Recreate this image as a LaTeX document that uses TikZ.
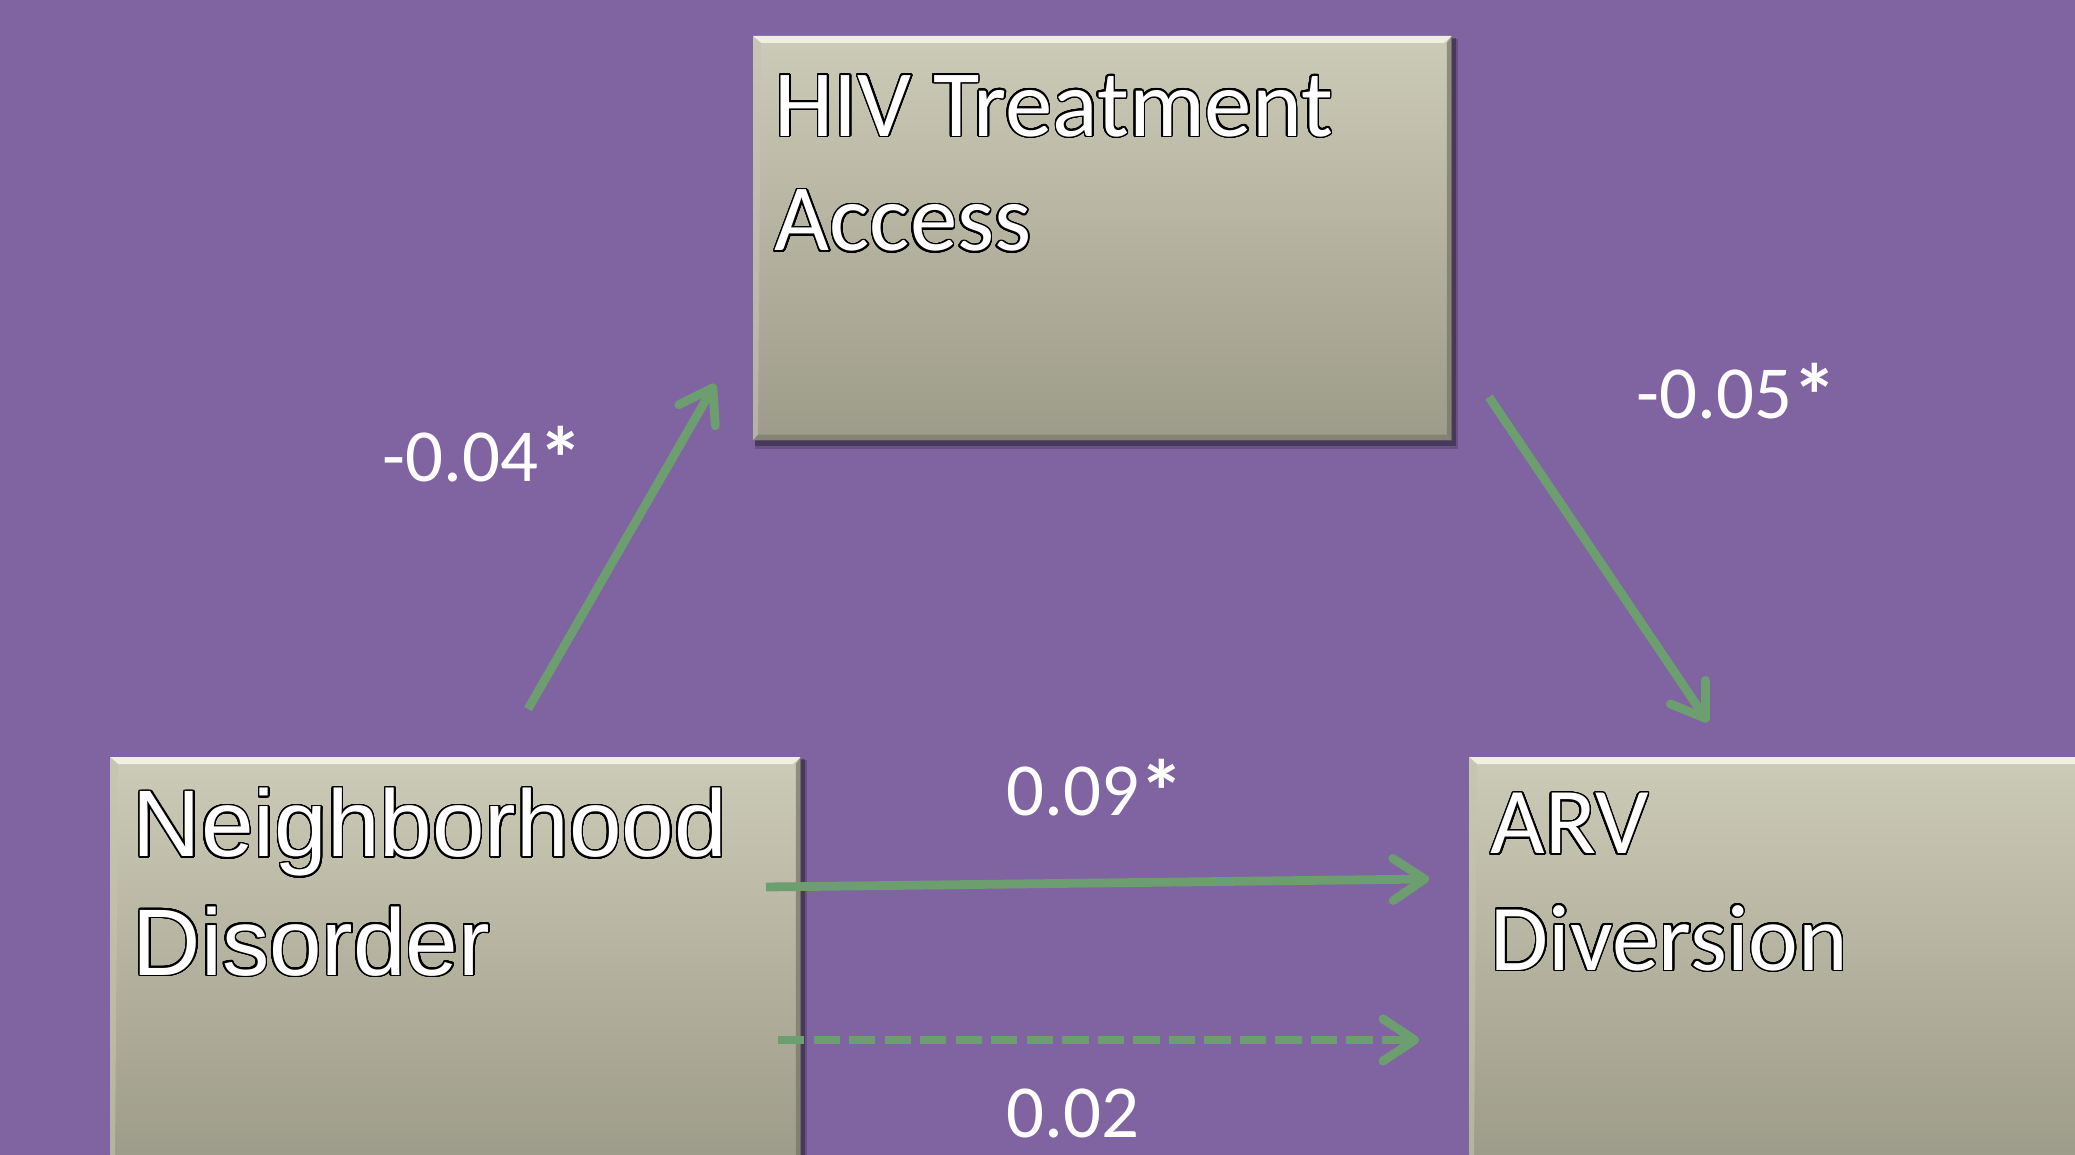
\documentclass[tikz,border=0pt]{standalone}
\usepackage{fontspec}
\setmainfont{Carlito}
\newfontfamily\arialf{Liberation Sans}
\usepackage{contour}
\contourlength{0.45pt}
\contournumber{32}
\usetikzlibrary{arrows.meta,calc}
\definecolor{bgpurple}{RGB}{128,100,162}
\definecolor{arrgreen}{RGB}{108,158,111}
\definecolor{boxtop}{RGB}{204,203,183}
\definecolor{boxbot}{RGB}{157,155,137}
\definecolor{bevlight}{RGB}{240,239,224}
\definecolor{bevleft}{RGB}{196,195,177}
\definecolor{bevdark}{RGB}{118,116,102}
\newcommand\sigstar{\raisebox{-0.12em}{\scalebox{1.2}{\bfseries *}}}
\tikzset{
  box/.style={rectangle, inner sep=0pt, top color=boxtop, bottom color=boxbot, anchor=north west},
  boxtext/.style={anchor=base west, inner sep=0pt, align=left, text=white},
  coef/.style={anchor=base west, inner sep=0pt, text=white, font=\fontsize{21.3}{24}\selectfont},
  link/.style={draw=arrgreen, line width=2.5pt, -{Straight Barb[length=9pt,width=12pt,round]}},
  dlink/.style={link, dash pattern=on 7.5pt off 2.6pt},
}
\newcommand\boxshadow[1]{%
  \fill[black,opacity=0.18] ($(#1.north west)+(2,3)$) rectangle ($(#1.south east)+(6,8)$);
  \fill[black,opacity=0.3] ($(#1.north west)+(2,2)$) rectangle ($(#1.south east)+(4,5)$);}
\newcommand\boxbevel[1]{%
  \fill[bevlight] (#1.north west) -- (#1.north east) -- ($(#1.north east)+(-8,7)$) -- ($(#1.north west)+(8,7)$) -- cycle;
  \fill[bevleft,opacity=0.6] (#1.north west) -- ($(#1.north west)+(8,7)$) -- ($(#1.south west)+(5,-6)$) -- (#1.south west) -- cycle;
  \fill[bevdark,opacity=0.7] (#1.north east) -- ($(#1.north east)+(-5,7)$) -- ($(#1.south east)+(-5,-6)$) -- (#1.south east) -- cycle;
  \fill[bevdark,opacity=0.6] (#1.south west) -- ($(#1.south west)+(5,-6)$) -- ($(#1.south east)+(-5,-6)$) -- (#1.south east) -- cycle;}
\begin{document}
\begin{tikzpicture}[x=0.01cm,y=-0.01cm]
  \useasboundingbox (0,0) rectangle (2075,1155);
  \clip (0,0) rectangle (2075,1155);
  \fill[bgpurple] (0,0) rectangle (2075,1155);

  % boxes
  \path (753,36) coordinate (phiv);
  \path (110,757) coordinate (pnd);
  \path (1469,757) coordinate (parv);
  \node[box, minimum width=6.97cm, minimum height=4.03cm] (hiv) at (phiv) {};
  \node[box, minimum width=6.89cm, minimum height=4.03cm] (nd) at (pnd) {};
  \node[box, minimum width=6.97cm, minimum height=4.03cm] (arv) at (parv) {};
  \boxshadow{hiv}\boxshadow{nd}\boxshadow{arv}
  \node[box, minimum width=6.97cm, minimum height=4.03cm] at (phiv) {};
  \node[box, minimum width=6.89cm, minimum height=4.03cm] at (pnd) {};
  \node[box, minimum width=6.97cm, minimum height=4.03cm] at (parv) {};
  \boxbevel{hiv}\boxbevel{nd}\boxbevel{arv}

  % box texts (base anchor = baseline of last line)
  \node[boxtext, font=\fontsize{27}{32.7}\selectfont] (hivtxt) at (774,251)
    {\contour{black}{HIV Treatment}\\\contour{black}{Access}};
  \node[boxtext, font=\arialf\fontsize{26.9}{33.6}\selectfont] (ndtxt) at (132,975)
    {\contour{black}{Neighborhood}\\\contour{black}{Disorder}};
  \node[boxtext, font=\fontsize{26.8}{33}\selectfont] (arvtxt) at (1490,970)
    {\contour{black}{ARV}\\\contour{black}{Diversion}};

  % coefficients
  \node[coef] (c1) at (382,482) {-0.04\sigstar};
  \node[coef] (c2) at (1636,419) {-0.05\sigstar};
  \node[coef] (c3) at (1006,815) {0.09\sigstar};
  \node[coef] (c4) at (1006,1137) {0.02};

  % connectors
  \coordinate (a1s) at (528,709);  \coordinate (a1e) at (715,384);
  \coordinate (a2s) at (1489,397); \coordinate (a2e) at (1708,722);
  \coordinate (a3s) at (766,887);  \coordinate (a3e) at (1429,879);
  \coordinate (a4s) at (778,1040); \coordinate (a4e) at (1419,1040);
  \draw[link] (a1s) -- (a1e);
  \draw[link] (a2s) -- (a2e);
  \draw[link] (a3s) -- (a3e);
  \draw[dlink] (a4s) -- (a4e);
\end{tikzpicture}
\end{document}
